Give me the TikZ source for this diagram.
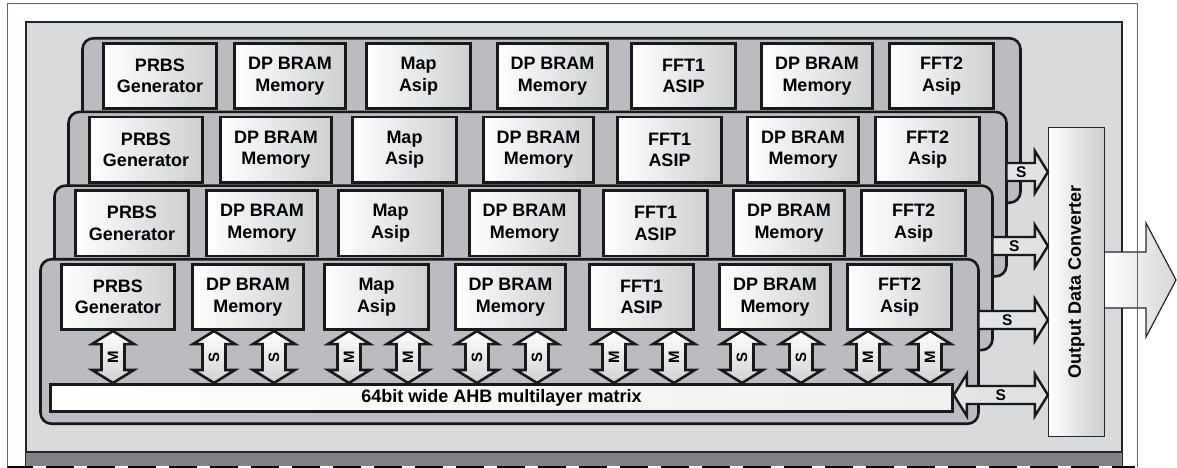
\documentclass[tikz,border=0pt]{standalone}
\usepackage{fontspec}
\setmainfont{Liberation Sans}
\usetikzlibrary{calc}
\definecolor{panelgray}{RGB}{217,218,219}
\definecolor{layergray}{RGB}{187,188,191}
\definecolor{stripgray}{RGB}{128,130,133}
\definecolor{framegreen}{RGB}{70,115,95}
\definecolor{shadegray}{RGB}{206,207,209}
\tikzset{
  blk/.style={draw=black!90, line width=2.6pt, left color=white, right color=shadegray, align=center, inner sep=0pt, font=\fontsize{18}{21.5}\selectfont\bfseries, minimum height=65.5pt},
  layerbox/.style={draw=black!90, line width=2.6pt, fill=layergray, rounded corners=11pt, minimum width=938pt, minimum height=164.5pt, inner sep=0pt},
  busbar/.style={draw=black!90, line width=2.6pt, left color=white, right color=black!6, inner sep=0pt, minimum width=902pt, minimum height=27.5pt, font=\fontsize{18}{18}\selectfont\bfseries},
  convbox/.style={draw=black!85, line width=1.2pt, left color=white, right color=black!20, inner sep=0pt, minimum width=56pt, minimum height=309pt},
  varrow/.style={draw=black!90, line width=2.6pt, top color=white, bottom color=black!18},
  harrow/.style={draw=black!90, line width=2.4pt, left color=black!10, middle color=white, right color=black!12},
  bigarrow/.style={draw=black!85, line width=1.2pt, left color=white, right color=black!16},
  albl/.style={font=\fontsize{15}{15}\selectfont\bfseries, inner sep=0pt},
  hlbl/.style={font=\fontsize{15.5}{15.5}\selectfont\bfseries, inner sep=0pt},
}
\newcommand\VArr[4]{%
  \draw[varrow] let \p1=(#2.south), \p2=(#3.north) in
    (#1pt,\y1) -- ++(21pt,-13pt) -- ++(-9.5pt,0pt) -- (#1pt+11.5pt,\y2+13pt) -- ++(9.5pt,0pt)
    -- (#1pt,\y2) -- ++(-21pt,13pt) -- ++(9.5pt,0pt) -- (#1pt-11.5pt,\y1-13pt) -- ++(-9.5pt,0pt) -- cycle;
  \path let \p1=(#2.south), \p2=(#3.north) in node[albl, rotate=90] at (#1pt,{(\y1+\y2)/2}) {#4};
}
\newcommand\HArr[4]{%
  \draw[harrow] let \p1=(#1.east), \p2=(#2.west) in
    (\x1-1.3pt,-#3pt+9pt) -- (\x2-13pt,-#3pt+9pt) -- (\x2-13pt,-#3pt+21pt) -- (\x2,-#3pt)
    -- (\x2-13pt,-#3pt-21pt) -- (\x2-13pt,-#3pt-9pt) -- (\x1-1.3pt,-#3pt-9pt) -- cycle;
  \path let \p1=(#1.east), \p2=(#2.west) in node[hlbl] at ({(\x1+\x2-13pt)/2},-#3pt) {#4};
}
\begin{document}
\begin{tikzpicture}[x=1pt,y=-1pt]
\useasboundingbox (0,0) rectangle (1177,468);
% panel and bottom strip
\fill[panelgray] (26,22) rectangle (1122,452);
\draw[black!85, line width=1.5pt] (26,466) -- (26,22) -- (1122,22) -- (1122,466);
\fill[stripgray] (26,452) rectangle (1122,466);
\draw[black!85, line width=2pt] (26,452) -- (1122,452);
\draw[black, line width=2.6pt, dash pattern=on 28pt off 13pt, dash phase=2pt] (7,467) -- (1135,467);
% layers, back to front
\foreach \k in {3,2,1,0}{
  \node[layerbox] (L\k) at ({509.5+14*\k},{341.5-73.67*\k}) {};
  \foreach \xa/\xb/\t [count=\i] in {60/176/{PRBS\\Generator}, 191/305/{DP BRAM\\Memory}, 323/430/{Map\\Asip}, 454/567/{DP BRAM\\Memory}, 588/695/{FFT1\\ASIP}, 718/832/{DP BRAM\\Memory}, 846/953/{FFT2\\Asip}}{
    \pgfmathsetmacro\w{\xb-\xa-2.6}
    \node[blk, minimum width=\w pt] (b\k-\i) at ({(\xa+\xb)/2+14*\k},{297-73.67*\k}) {\t};
  }
}
% bus
\node[busbar] (bus) at (501.5,398) {64bit wide AHB multilayer matrix};
% vertical master/slave arrows
\VArr{113}{b0-1}{bus}{M}
\VArr{214}{b0-2}{bus}{S}
\VArr{274}{b0-2}{bus}{S}
\VArr{349}{b0-3}{bus}{M}
\VArr{408}{b0-3}{bus}{M}
\VArr{477}{b0-4}{bus}{S}
\VArr{537}{b0-4}{bus}{S}
\VArr{614}{b0-5}{bus}{M}
\VArr{674}{b0-5}{bus}{M}
\VArr{742}{b0-6}{bus}{S}
\VArr{801}{b0-6}{bus}{S}
\VArr{868}{b0-7}{bus}{M}
\VArr{930}{b0-7}{bus}{M}
% converter
\node[convbox] (conv) at (1076.5,282) {};
\node[rotate=90, font=\fontsize{18}{18}\selectfont\bfseries, inner sep=0pt] at (conv.center) {Output Data Converter};
% horizontal arrows
\HArr{L2}{conv}{172}{S}
\HArr{L1}{conv}{246}{S}
\HArr{L0}{conv}{320}{S}
\draw[harrow] let \p1=(bus.east), \p2=(conv.west) in
  (\x1,-395pt) -- (\x1+13pt,-395pt+21pt) -- (\x1+13pt,-395pt+9pt) -- (\x2-13pt,-395pt+9pt) -- (\x2-13pt,-395pt+21pt)
  -- (\x2,-395pt) -- (\x2-13pt,-395pt-21pt) -- (\x2-13pt,-395pt-9pt) -- (\x1+13pt,-395pt-9pt) -- (\x1+13pt,-395pt-21pt) -- cycle;
\path let \p1=(bus.east), \p2=(conv.west) in node[hlbl] at ({(\x1+\x2)/2},-395pt) {S};
% output arrow
\coordinate (outtip) at (1176,280);
\draw[bigarrow] let \p1=(conv.east), \p2=(outtip) in
  (\x1,\y2+28pt) -- (\x2-30pt,\y2+28pt) -- (\x2-30pt,\y2+57pt) -- (\x2,\y2) -- (\x2-30pt,\y2-57pt) -- (\x2-30pt,\y2-28pt) -- (\x1,\y2-28pt);
% outer frame
\draw[framegreen, line width=0.9pt] (7,467) -- (7,3) -- (1137,3) -- (1137,467);
\end{tikzpicture}
\end{document}
